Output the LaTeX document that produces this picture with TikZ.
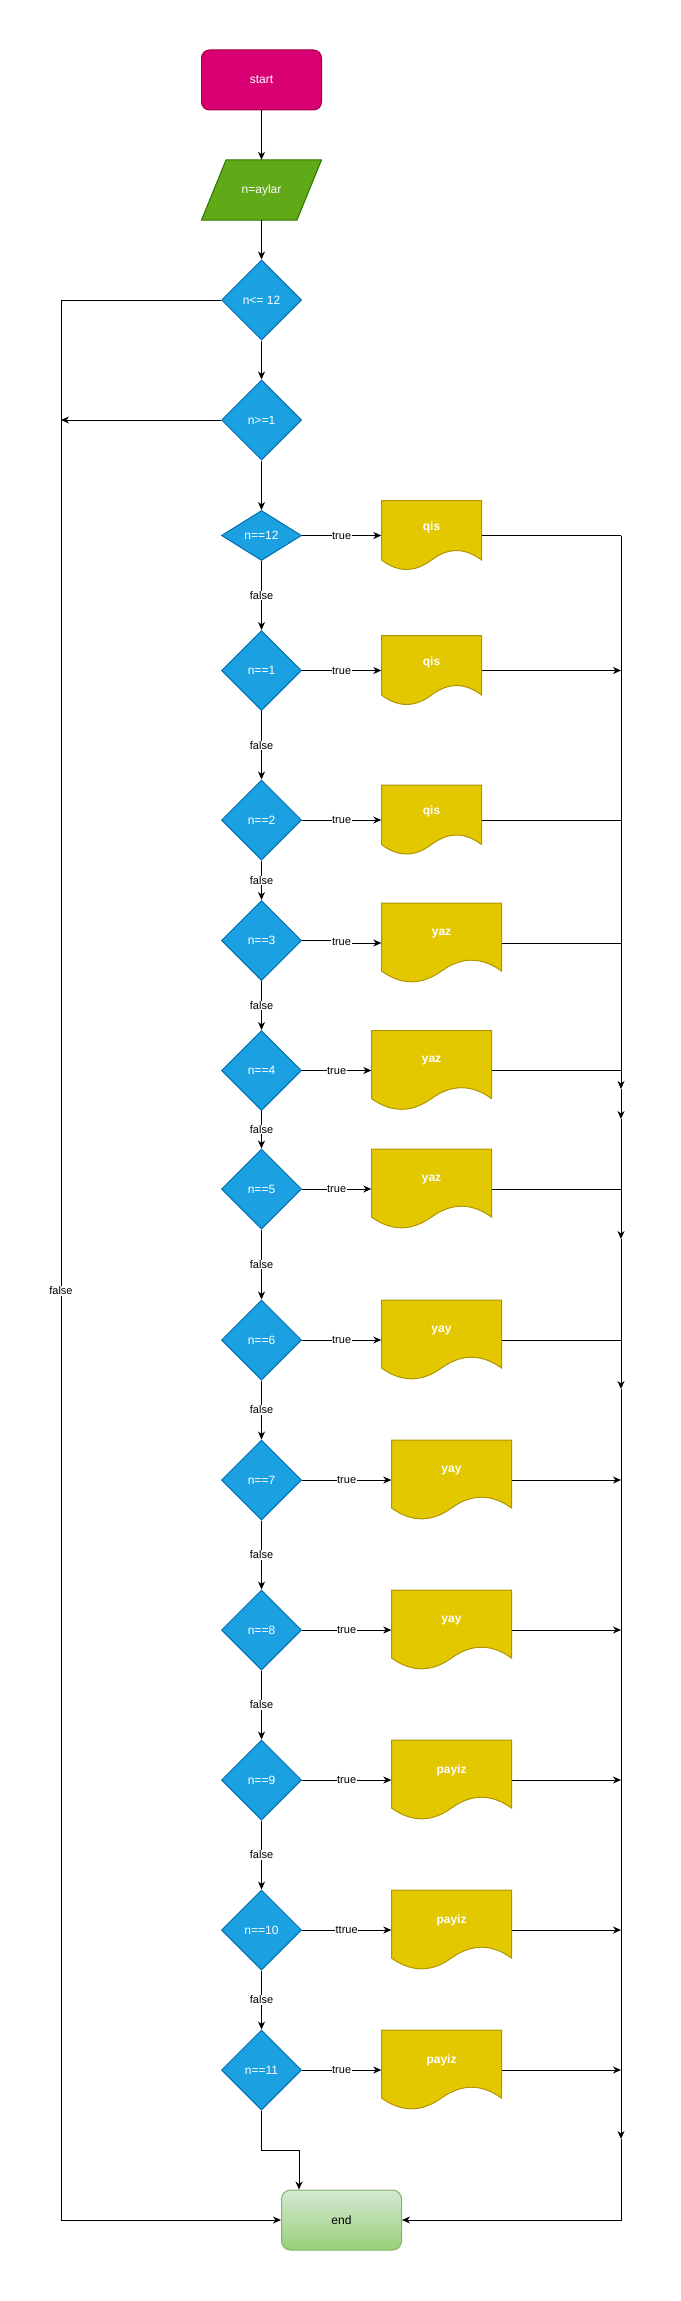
\documentclass[tikz,border=0pt]{standalone}
\usepackage{fontspec}
\setmainfont{Liberation Sans}
\usetikzlibrary{shapes.geometric,arrows.meta,calc}
\definecolor{startfill}{HTML}{D80073}
\definecolor{startdraw}{HTML}{A50040}
\definecolor{infill}{HTML}{60A917}
\definecolor{indraw}{HTML}{2D7600}
\definecolor{dfill}{HTML}{1BA1E2}
\definecolor{ddraw}{HTML}{006EAF}
\definecolor{docfill}{HTML}{E3C800}
\definecolor{docdraw}{HTML}{B09500}
\definecolor{endtop}{HTML}{D5E8D4}
\definecolor{endbot}{HTML}{97D077}
\definecolor{enddraw}{HTML}{82B366}
\tikzset{
 every node/.style={font=\fontsize{12}{14}\selectfont},
 dec/.style={diamond, fill=dfill, draw=ddraw, line width=1pt, text=white, inner sep=0pt, minimum width=80pt, minimum height=80pt},
 arr/.style={draw=black, line width=1pt, -{Stealth[length=8pt,width=7pt,inset=2.5pt]}},
 ln/.style={draw=black, line width=1pt},
 lbl/.style={fill=white, inner sep=0.6pt, font=\fontsize{11}{13}\selectfont, text=black},
 docshape/.style={fill=docfill, draw=docdraw, line width=1pt},
 docbox/.style={inner sep=0pt, draw=none},
 doclabel/.style={text=white, font=\fontsize{12}{14}\selectfont\bfseries, inner sep=0pt},
}
\newcommand\docnode[6]{%
  \path[docshape] ({#2-#4/2},{#3-#5/2}) -- ({#2+#4/2},{#3-#5/2}) -- ({#2+#4/2},{#3+#5/2-0.15*#5})
    .. controls ({#2+#4/2-#4/6},{#3+#5/2-0.33*#5}) and ({#2+#4/6},{#3+#5/2-0.33*#5}) .. ({#2},{#3+#5/2-0.15*#5})
    .. controls ({#2-#4/6},{#3+#5/2+0.03*#5}) and ({#2-#4/2+#4/6},{#3+#5/2+0.03*#5}) .. ({#2-#4/2},{#3+#5/2-0.15*#5}) -- cycle;
  \node[docbox, minimum width=#4pt, minimum height=#5pt] (#1) at (#2,#3) {};
  \node[doclabel] (#1l) at ({#2},{#3-#5/2+0.38*#5}) {#6};
}
\begin{document}
\begin{tikzpicture}[x=1pt,y=-1pt]
\useasboundingbox (0,0) rectangle (680,2301);
% start and input
\node[rectangle, rounded corners=8pt, fill=startfill, draw=startdraw, line width=1pt, text=white, minimum width=120pt, minimum height=60pt] (start) at (261.5,80) {start};
\path[fill=infill, draw=indraw, line width=1pt] (226,160) -- (321.5,160) -- (297,220) -- (201.5,220) -- cycle;
\node[inner sep=0pt, minimum width=120pt, minimum height=60pt, text=white] (inp) at (261.5,190) {n=aylar};
% decisions
\node[dec] (d0) at (261.5,300) {n<= 12};
\node[dec] (d00) at (261.5,420) {n>=1};
\node[dec, minimum height=50pt] (d12) at (261.5,535.5) {n==12};
\node[dec] (d1) at (261.5,670.5) {n==1};
\node[dec] (d2) at (261.5,820) {n==2};
\node[dec] (d3) at (261.5,940.5) {n==3};
\node[dec] (d4) at (261.5,1070.5) {n==4};
\node[dec] (d5) at (261.5,1189) {n==5};
\node[dec] (d6) at (261.5,1340) {n==6};
\node[dec] (d7) at (261.5,1480) {n==7};
\node[dec] (d8) at (261.5,1630) {n==8};
\node[dec] (d9) at (261.5,1780) {n==9};
\node[dec] (d10) at (261.5,1930) {n==10};
\node[dec] (d11) at (261.5,2070) {n==11};
% documents
\docnode{b12}{431.5}{535.5}{100}{70}{qis}
\docnode{b1}{431.5}{670.5}{100}{70}{qis}
\docnode{b2}{431.5}{820}{100}{70}{qis}
\docnode{b3}{441.5}{943}{120}{80}{yaz}
\docnode{b4}{431.5}{1070.5}{120}{80}{yaz}
\docnode{b5}{431.5}{1189}{120}{80}{yaz}
\docnode{b6}{441.5}{1340}{120}{80}{yay}
\docnode{b7}{451.5}{1480}{120}{80}{yay}
\docnode{b8}{451.5}{1630}{120}{80}{yay}
\docnode{b9}{451.5}{1780}{120}{80}{payiz}
\docnode{b10}{451.5}{1930}{120}{80}{payiz}
\docnode{b11}{441.5}{2070}{120}{80}{payiz}
% end
\node[rectangle, rounded corners=9pt, top color=endtop, bottom color=endbot, draw=enddraw, line width=1pt, text=black, minimum width=120pt, minimum height=60pt] (endn) at (341.5,2220) {end};
% coordinates
\coordinate (lft) at (61,300);
\coordinate (rt) at (621,535.5);
\coordinate (r1) at (621,1089);
\coordinate (r2) at (621,1119);
\coordinate (r3) at (621,1239);
\coordinate (r4) at (621,1389);
\coordinate (r5) at (621,2139);
\coordinate (rend) at (621,2220);
\coordinate (j11) at (299,2150);
\coordinate (j3a) at (341.5,940.5);
\coordinate (j3b) at (341.5,943);
% main flow
\draw[arr] (start.south) -- (inp.north);
\draw[arr] (inp.south) -- (d0.north);
\draw[arr] (d0.south) -- (d00.north);
\draw[arr] (d00.south) -- (d12.north);
\draw[arr] (d12.south) -- node[lbl] (f12) {false} (d1.north);
\draw[arr] (d1.south) -- node[lbl] (f1) {false} (d2.north);
\draw[arr] (d2.south) -- node[lbl] (f2) {false} (d3.north);
\draw[arr] (d3.south) -- node[lbl] (f3) {false} (d4.north);
\draw[arr] (d4.south) -- node[lbl] (f4) {false} (d5.north);
\draw[arr] (d5.south) -- node[lbl] (f5) {false} (d6.north);
\draw[arr] (d6.south) -- node[lbl] (f6) {false} (d7.north);
\draw[arr] (d7.south) -- node[lbl] (f7) {false} (d8.north);
\draw[arr] (d8.south) -- node[lbl] (f8) {false} (d9.north);
\draw[arr] (d9.south) -- node[lbl] (f9) {false} (d10.north);
\draw[arr] (d10.south) -- node[lbl] (f10) {false} (d11.north);
\draw[arr] (d11.south) |- (j11) -- (j11 |- endn.north);
% true branches
\draw[arr] (d12.east) -- node[lbl] (t12) {true} (b12.west);
\draw[arr] (d1.east) -- node[lbl] (t1) {true} (b1.west);
\draw[arr] (d2.east) -- node[lbl] (t2) {true} (b2.west);
\draw[arr] (d3.east) -- (j3a) -- (j3b) -- (b3.west);
\node[lbl] (t3) at (341.5,942) {true};
\draw[arr] (d4.east) -- node[lbl] (t4) {true} (b4.west);
\draw[arr] (d5.east) -- node[lbl] (t5) {true} (b5.west);
\draw[arr] (d6.east) -- node[lbl] (t6) {true} (b6.west);
\draw[arr] (d7.east) -- node[lbl] (t7) {true} (b7.west);
\draw[arr] (d8.east) -- node[lbl] (t8) {true} (b8.west);
\draw[arr] (d9.east) -- node[lbl] (t9) {true} (b9.west);
\draw[arr] (d10.east) -- node[lbl] (t10) {ttrue} (b10.west);
\draw[arr] (d11.east) -- node[lbl] (t11) {true} (b11.west);
% to the right bus
\draw[ln] (b12.east) -- (rt);
\draw[arr] (b1.east) -- (b1.east -| rt);
\draw[ln] (b2.east) -- (b2.east -| rt);
\draw[ln] (b3.east) -- (b3.east -| rt);
\draw[ln] (b4.east) -- (b4.east -| rt);
\draw[ln] (b5.east) -- (b5.east -| rt);
\draw[ln] (b6.east) -- (b6.east -| rt);
\draw[arr] (b7.east) -- (b7.east -| rt);
\draw[arr] (b8.east) -- (b8.east -| rt);
\draw[arr] (b9.east) -- (b9.east -| rt);
\draw[arr] (b10.east) -- (b10.east -| rt);
\draw[arr] (b11.east) -- (b11.east -| rt);
\draw[arr] (rt) -- (r1);
\draw[arr] (r1) -- (r2);
\draw[arr] (r2) -- (r3);
\draw[arr] (r3) -- (r4);
\draw[arr] (r4) -- (r5);
\draw[arr] (r5) -- (rend) -- (endn.east);
% left false path
\draw[arr] (d0.west) -- (lft) -- (lft |- endn.west) -- (endn.west);
\draw[arr] (d00.west) -- (d00.west -| lft);
\node[lbl] (fl) at (61,1291) {false};
\end{tikzpicture}
\end{document}
